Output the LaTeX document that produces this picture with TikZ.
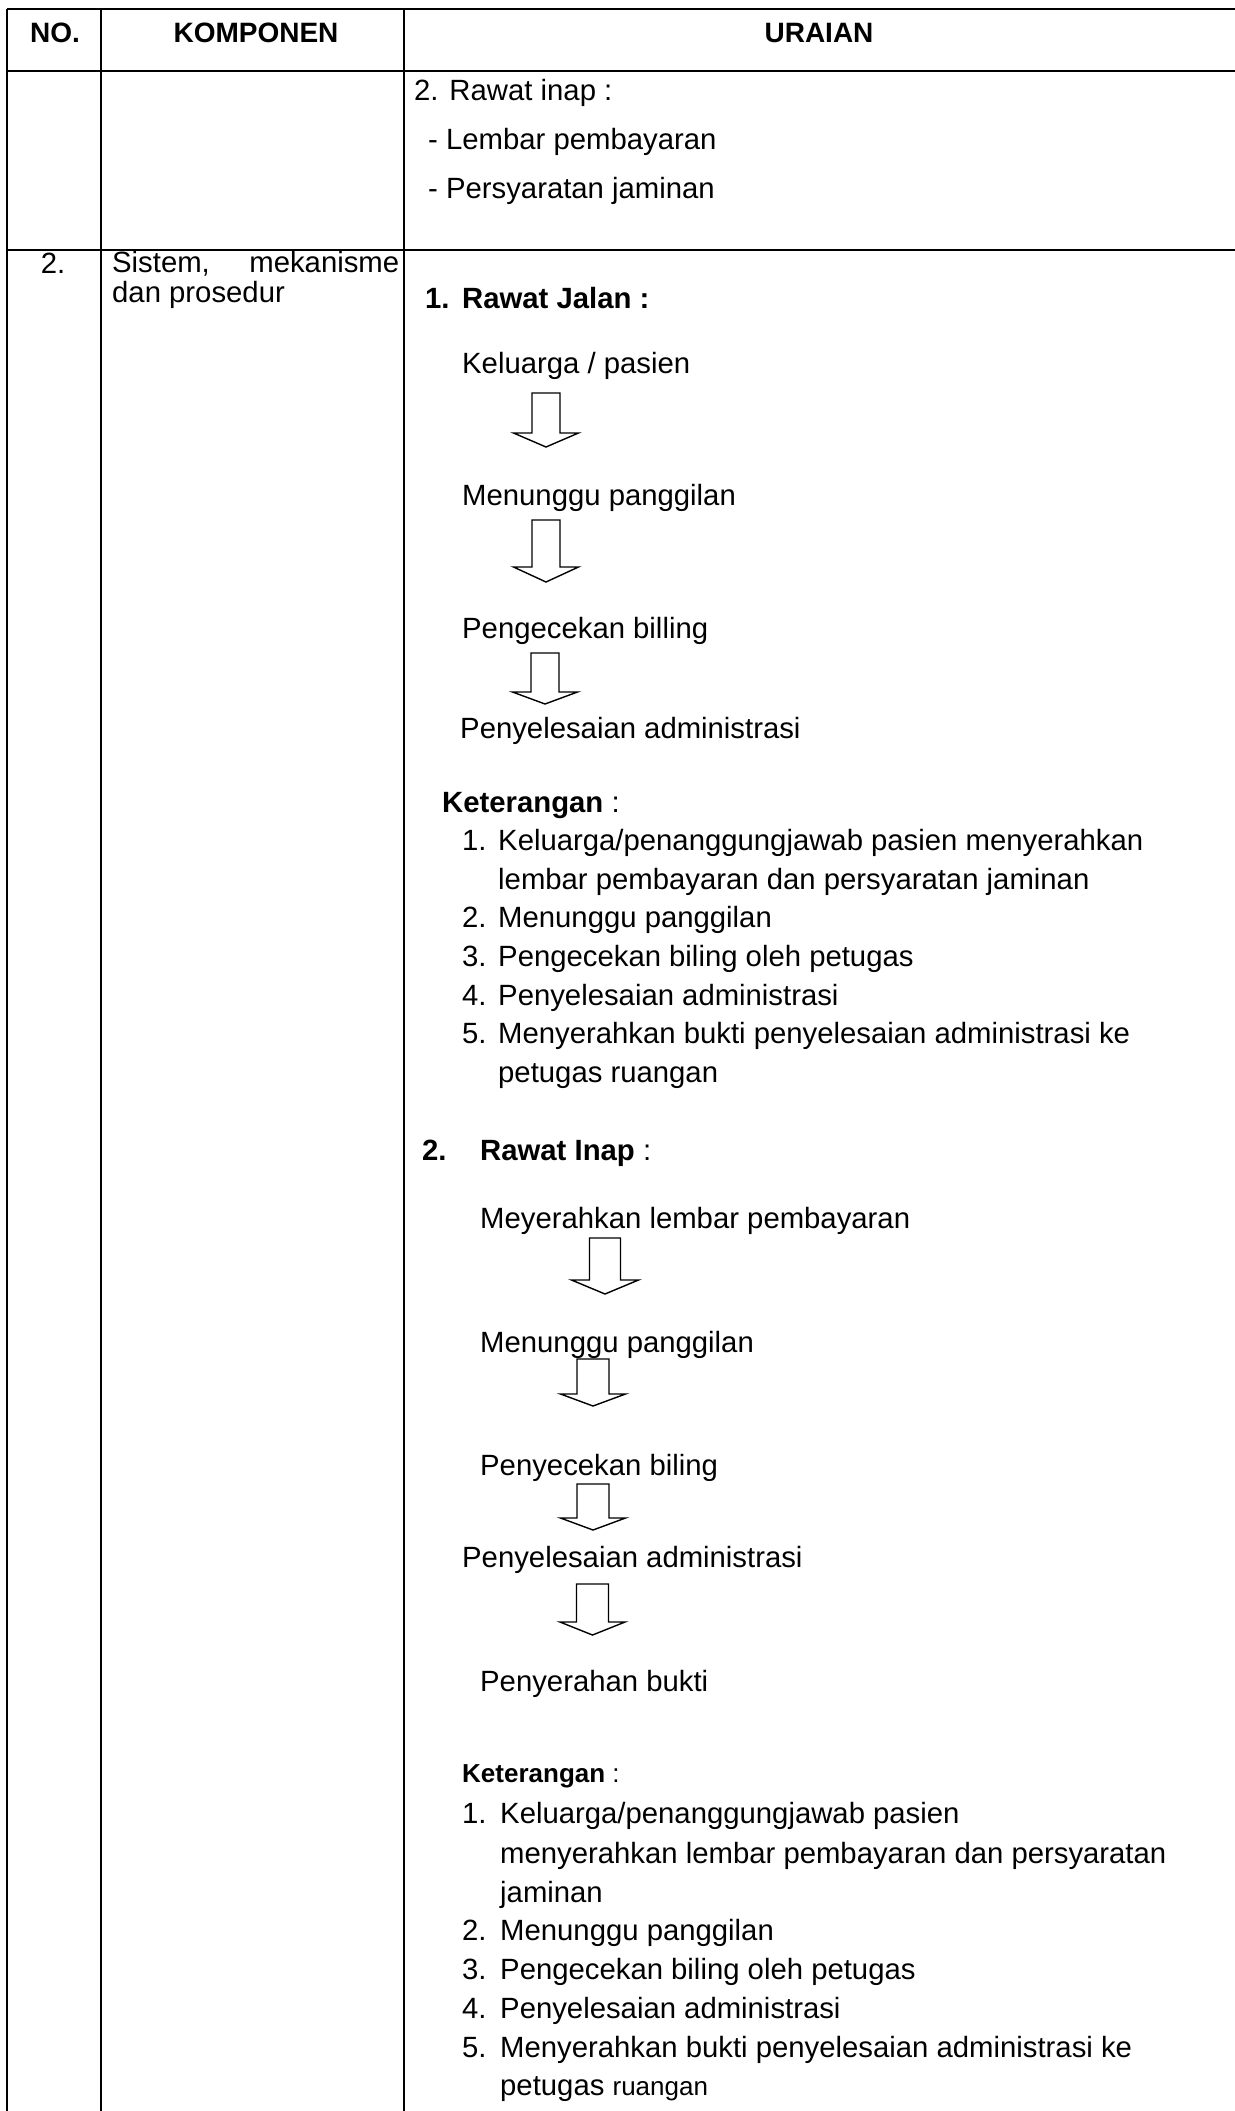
\documentclass[tikz,border=0pt]{standalone}
\usepackage{fontspec}
\setmainfont{Liberation Sans}

\tikzset{
  grid line/.style={line width=2.7pt},
  blockarrow/.style={line width=1.4pt, fill=white, line join=miter},
  txt/.style={anchor=base west, inner sep=0pt, font=\fontsize{29.3}{35}\selectfont},
  txtsmall/.style={txt, font=\fontsize{26}{30}\selectfont},
  head/.style={anchor=base, inner sep=0pt, font=\fontsize{28}{34}\selectfont\bfseries}
}

\begin{document}
\begin{tikzpicture}[x=1pt,y=-1pt]
    % Definitions
    \useasboundingbox (0,0) rectangle (1234,2111);
    % Table lines
    \draw[grid line] (7,9)    -- (1240,9);
    \draw[grid line] (7,71)   -- (1240,71);
    \draw[grid line] (7,250)  -- (1240,250);
    \draw[grid line] (7,9)    -- (7,2115);
    \draw[grid line] (101,9)  -- (101,2115);
    \draw[grid line] (404,9)  -- (404,2115);
    % Header
    \node[head] (hNo)     at (55,43)  {NO.};
    \node[head] (hKomp)   at (256,43) {KOMPONEN};
    \node[head] (hUraian) at (819,43) {URAIAN};
    % First row (continued)
    \node[txt] (inapJudul)  at (414,101) {2. Rawat inap :};
    \node[txt] (inapLembar) at (428,150) {- Lembar pembayaran};
    \node[txt] (inapSyarat) at (428,199) {- Persyaratan jaminan};
    % Second row
    \node[head, font=\fontsize{29.3}{35}\selectfont] (noDua) at (53,273) {2.};
    \node[anchor=north west, inner sep=0pt, text width=287pt, align=justify,
          font=\fontsize{29.3}{30.5}\selectfont] (komponen) at (112,251)
          {Sistem, mekanisme dan prosedur};
    % Rawat jalan
    \node[txt, font=\fontsize{29.3}{35}\selectfont\bfseries] (rjNo)    at (425,308) {1.};
    \node[txt, font=\fontsize{29.3}{35}\selectfont\bfseries] (rjJudul) at (462,308) {Rawat Jalan :};
    \node[txt] (rjKeluarga) at (462,373) {Keluarga / pasien};
    \node[txt] (rjTunggu)   at (462,505) {Menunggu panggilan};
    \node[txt] (rjCek)      at (462,638) {Pengecekan billing};
    \node[txt] (rjSelesai)  at (460,738) {Penyelesaian administrasi};
    % Arrows rawat jalan
    \draw[blockarrow] (532,393) -- ++(28,0) -- ++(0,40) -- ++(18.5,0) -- ++(-32.5,14) -- ++(-32.5,-14) -- ++(18.5,0) -- cycle;
    \draw[blockarrow] (532,520) -- ++(28,0) -- ++(0,47) -- ++(18.5,0) -- ++(-32.5,15) -- ++(-32.5,-15) -- ++(18.5,0) -- cycle;
    \draw[blockarrow] (531,653) -- ++(28,0) -- ++(0,39) -- ++(18.5,0) -- ++(-32.5,12) -- ++(-32.5,-12) -- ++(18.5,0) -- cycle;
    % Keterangan rawat jalan
    \node[txt] (rjKet) at (442,812) {\textbf{Keterangan} :};
    \node[txt] (rjK1n) at (462,850)  {1.};
    \node[txt] (rjK1a) at (498,850)  {Keluarga/penanggungjawab pasien menyerahkan};
    \node[txt] (rjK1b) at (498,889)  {lembar pembayaran dan persyaratan jaminan};
    \node[txt] (rjK2n) at (462,927)  {2.};
    \node[txt] (rjK2a) at (498,927)  {Menunggu panggilan};
    \node[txt] (rjK3n) at (462,966)  {3.};
    \node[txt] (rjK3a) at (498,966)  {Pengecekan biling oleh petugas};
    \node[txt] (rjK4n) at (462,1005) {4.};
    \node[txt] (rjK4a) at (498,1005) {Penyelesaian administrasi};
    \node[txt] (rjK5n) at (462,1043) {5.};
    \node[txt] (rjK5a) at (498,1043) {Menyerahkan bukti penyelesaian administrasi ke};
    \node[txt] (rjK5b) at (498,1082) {petugas ruangan};
    % Rawat inap
    \node[txt, font=\fontsize{29.3}{35}\selectfont\bfseries] (riNo) at (422,1160) {2.};
    \node[txt] (riJudul)    at (480,1160) {\textbf{Rawat Inap} :};
    \node[txt] (riLembar)   at (480,1228) {Meyerahkan lembar pembayaran};
    \node[txt] (riTunggu)   at (480,1352) {Menunggu panggilan};
    \node[txt] (riCek)      at (480,1475) {Penyecekan biling};
    \node[txt] (riSelesai)  at (462,1567) {Penyelesaian administrasi};
    \node[txt] (riBukti)    at (480,1691) {Penyerahan bukti};
    % Arrows rawat inap
    \draw[blockarrow] (589.5,1238) -- ++(31,0) -- ++(0,42) -- ++(18,0) -- ++(-33.5,14) -- ++(-33.5,-14) -- ++(18,0) -- cycle;
    \draw[blockarrow] (577,1359) -- ++(32,0) -- ++(0,35) -- ++(16.5,0) -- ++(-32.5,12) -- ++(-32.5,-12) -- ++(16.5,0) -- cycle;
    \draw[blockarrow] (577,1484) -- ++(32,0) -- ++(0,34) -- ++(16.5,0) -- ++(-32.5,12) -- ++(-32.5,-12) -- ++(16.5,0) -- cycle;
    \draw[blockarrow] (576.5,1584) -- ++(32,0) -- ++(0,38) -- ++(16.5,0) -- ++(-32.5,13) -- ++(-32.5,-13) -- ++(16.5,0) -- cycle;
    % Keterangan rawat inap
    \node[txtsmall] (riKet) at (462,1782) {\textbf{Keterangan} :};
    \node[txt] (riK1n) at (462,1823) {1.};
    \node[txt] (riK1a) at (500,1823) {Keluarga/penanggungjawab pasien};
    \node[txt] (riK1b) at (500,1863) {menyerahkan lembar pembayaran dan persyaratan};
    \node[txt] (riK1c) at (500,1902) {jaminan};
    \node[txt] (riK2n) at (462,1940) {2.};
    \node[txt] (riK2a) at (500,1940) {Menunggu panggilan};
    \node[txt] (riK3n) at (462,1979) {3.};
    \node[txt] (riK3a) at (500,1979) {Pengecekan biling oleh petugas};
    \node[txt] (riK4n) at (462,2018) {4.};
    \node[txt] (riK4a) at (500,2018) {Penyelesaian administrasi};
    \node[txt] (riK5n) at (462,2057) {5.};
    \node[txt] (riK5a) at (500,2057) {Menyerahkan bukti penyelesaian administrasi ke};
    \node[txt] (riK5b) at (500,2095) {petugas {\fontsize{26}{30}\selectfont ruangan}};
\end{tikzpicture}
\end{document}
